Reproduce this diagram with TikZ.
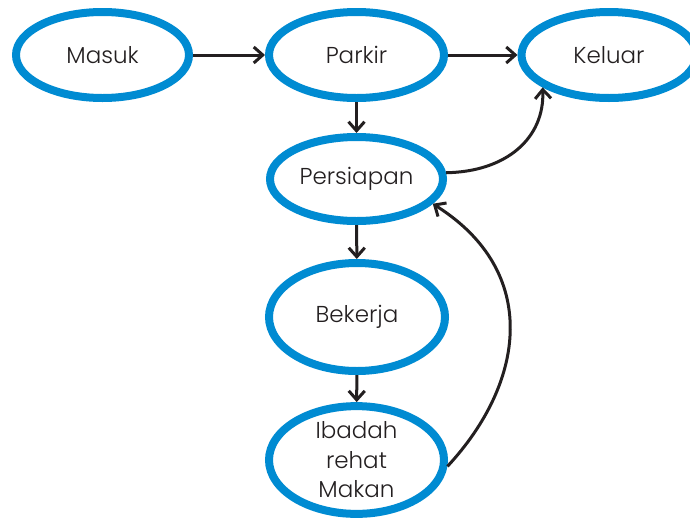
\documentclass[tikz,border=0pt]{standalone}
\usepackage{fontspec}
\setmainfont{Poppins}[UprightFont={* Light}]
\usetikzlibrary{shapes.geometric,arrows.meta}
\definecolor{ringblue}{RGB}{0,139,210}
\definecolor{ink}{RGB}{35,31,32}
\tikzset{
  state/.style={ellipse, draw=ringblue, line width=8pt, fill=white,
    inner sep=0pt, text=ink, font=\fontsize{23}{29.5}\selectfont, align=center},
  flow/.style={draw=ink, line width=3pt,
    -{Straight Barb[length=9pt,width=16pt,line width=3pt]}}
}
\begin{document}
\begin{tikzpicture}[x=1pt,y=-1pt]
  \useasboundingbox (0,0) rectangle (690,517);
  % states
  \node[state, minimum width=173pt, minimum height=86pt] (masuk) at (102.5,55) {Masuk};
  \node[state, minimum width=175pt, minimum height=86pt] (parkir) at (356.5,55) {Parkir};
  \node[state, minimum width=175pt, minimum height=86pt] (keluar) at (609,55) {Keluar};
  \node[state, minimum width=173pt, minimum height=84pt] (persiapan) at (356.5,179) {Persiapan};
  \node[state, minimum width=176pt, minimum height=108pt] (bekerja) at (357,317) {Bekerja};
  \node[state, minimum width=175pt, minimum height=106pt] (ibadah) at (356.5,460) {Ibadah\\rehat\\Makan};
  % transitions
  \draw[flow] (masuk) -- (parkir);
  \draw[flow] (parkir) -- (keluar);
  \draw[flow] (parkir) -- (persiapan);
  \draw[flow] (persiapan) -- (bekerja);
  \draw[flow] (bekerja) -- (ibadah);
  \draw[flow] (persiapan.4) .. controls +(60,-1) and +(2,51) .. (keluar.206);
  \draw[flow] (ibadah.-4) .. controls +(78,-84) and +(108,68) .. (persiapan.342);
\end{tikzpicture}
\end{document}
